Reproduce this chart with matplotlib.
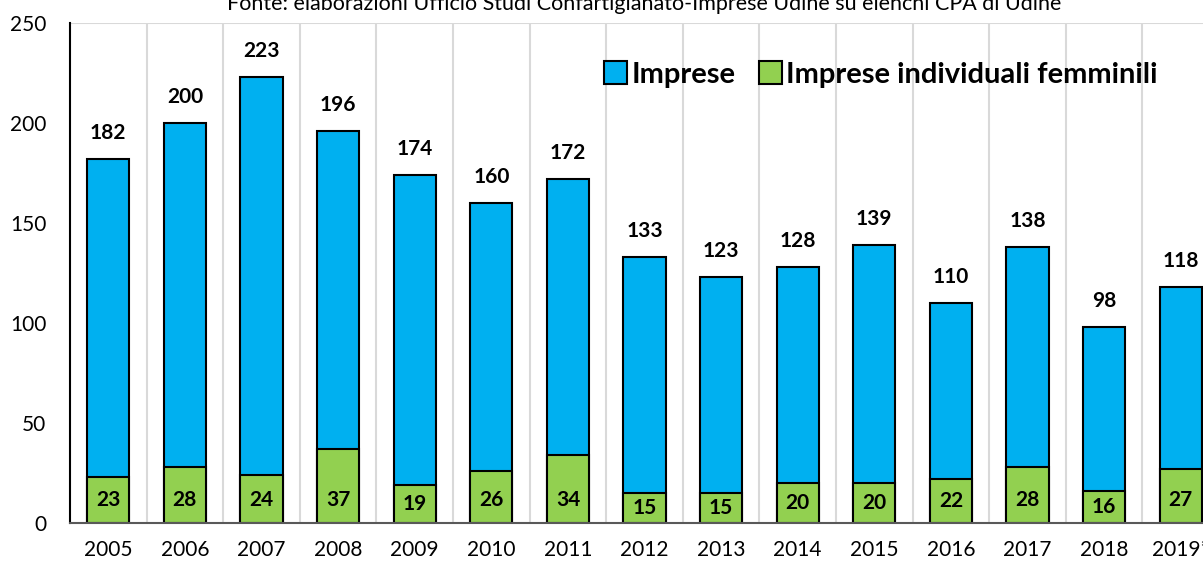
import matplotlib
matplotlib.use("Agg")
import matplotlib.pyplot as plt
from matplotlib.patches import Patch
import numpy as np

plt.rcParams['font.family'] = ['Lato', 'DejaVu Sans']

anni = ["2005", "2006", "2007", "2008", "2009", "2010", "2011", "2012",
        "2013", "2014", "2015", "2016", "2017", "2018", "2019*"]
imprese = [182, 200, 223, 196, 174, 160, 172, 133, 123, 128, 139, 110, 138, 98, 118]
femminili = [23, 28, 24, 37, 19, 26, 34, 15, 15, 20, 20, 22, 28, 16, 27]

blu = "#00B0F0"
verde = "#92D050"

fig = plt.figure(figsize=(12.03, 5.64), dpi=100)
ax = fig.add_axes([70/1203, 41/564, 1149/1203, 500/564])

x = np.arange(len(anni))
w = 0.55
ax.bar(x, imprese, w, color=blu, edgecolor="black", linewidth=1.5, zorder=3)
ax.bar(x, femminili, w, color=verde, edgecolor="black", linewidth=1.5, zorder=4)

for xi, v in zip(x, imprese):
    ax.text(xi, v + 8, str(v), ha="center", va="bottom", fontsize=15,
            fontweight="bold", zorder=5)
for xi, v in zip(x, femminili):
    ax.text(xi, min(v / 2, 11.5), str(v), ha="center", va="center", fontsize=15,
            fontweight="bold", zorder=5)

ax.set_xlim(-0.5, len(anni) - 0.5)
ax.set_ylim(0, 250)
ax.set_yticks(range(0, 251, 50))
ax.set_xticks(x)
ax.set_xticklabels(anni)
ax.tick_params(axis="both", length=0, labelsize=15)
ax.tick_params(axis="x", pad=12)
ax.tick_params(axis="y", pad=17)

# linee verticali tra le categorie
ax.set_xticks(np.arange(0.5, len(anni) - 0.5, 1), minor=True)
ax.tick_params(axis="x", which="minor", length=0)
ax.grid(axis="x", which="minor", color="#d9d9d9", linewidth=1.5, zorder=0)
ax.axhline(250, color="#d9d9d9", linewidth=1.5, zorder=0)

for s in ["top", "right"]:
    ax.spines[s].set_visible(False)
ax.spines["left"].set_color("black")
ax.spines["left"].set_linewidth(1.5)
ax.spines["bottom"].set_color("#595959")
ax.spines["bottom"].set_linewidth(1.5)
ax.spines["bottom"].set_zorder(6)

handles = [Patch(facecolor=blu, edgecolor="black", linewidth=1.5),
           Patch(facecolor=verde, edgecolor="black", linewidth=1.5)]
ax.legend(handles, ["Imprese", "Imprese individuali femminili"],
          loc="center left", bbox_to_anchor=(522/1149, 0.897), ncol=2,
          frameon=False, prop={"weight": "bold", "size": 21},
          handlelength=0.8, handleheight=0.8, handletextpad=0.15,
          columnspacing=0.8, borderaxespad=0)

fig.text(644/1203, 0.993, "Fonte: elaborazioni Ufficio Studi Confartigianato-Imprese Udine su elenchi CPA di Udine",
         ha="center", va="center", fontsize=15.5)

fig.savefig("out.png", dpi=100)
